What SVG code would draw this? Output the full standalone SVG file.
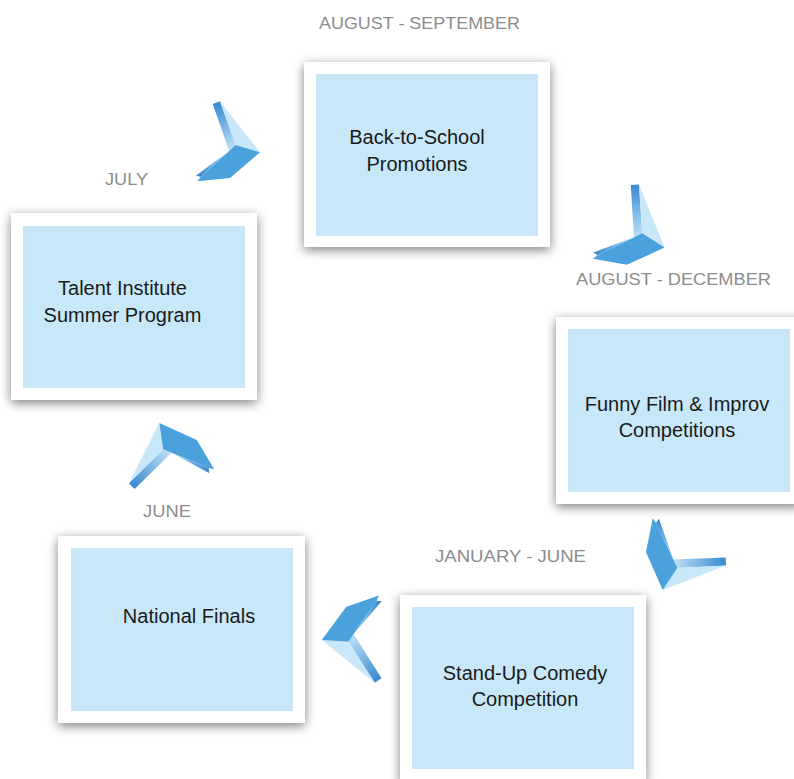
<svg xmlns="http://www.w3.org/2000/svg" xmlns:xlink="http://www.w3.org/1999/xlink" width="794" height="779" viewBox="0 0 794 779">
<style>
.frame{fill:#ffffff;filter:url(#shadow);}
.inner{fill:#c8e8f9;}
.txt{font-family:"Liberation Sans",Arial,sans-serif;font-size:20px;fill:#1a1a1a;text-anchor:middle;}
.lbl{font-family:"Liberation Sans",Arial,sans-serif;font-size:17px;fill:#8c8c8c;text-anchor:middle;}
.lightface{fill:#c8e8fa;}
.darkface{fill:#4ba1dc;}
</style>
<defs>
<filter id="shadow" x="-15%" y="-15%" width="130%" height="135%">
<feDropShadow dx="0" dy="3" stdDeviation="5.5" flood-color="#000" flood-opacity="0.5"/>
</filter>
<linearGradient id="gUp" gradientUnits="userSpaceOnUse" x1="-16" y1="-45" x2="0" y2="0">
<stop offset="0" stop-color="#3a8acf"/>
<stop offset="1" stop-color="#b9def5"/>
</linearGradient>
<linearGradient id="gLow" gradientUnits="userSpaceOnUse" x1="0" y1="3" x2="-35" y2="29">
<stop offset="0" stop-color="#b3dbf4"/>
<stop offset="1" stop-color="#3a8acf"/>
</linearGradient>
<g id="chev">
<polygon fill="url(#gUp)" points="-20,-44 -12.7,-46.7 3,-3 -3.5,3"/>
<polygon class="lightface" points="-12.7,-46.7 27.3,4.3 3,-3"/>
<polygon class="darkface" points="3,-3 27.3,4.3 -2.7,30 -35.3,33.3 -32,29"/>
<polygon fill="url(#gLow)" points="-3.5,3 3,-3 -32,29 -36.7,27.5"/>
</g>
</defs>
<rect width="794" height="779" fill="#ffffff"/>

<g id="connectors">
<use xlink:href="#chev" href="#chev" transform="translate(232.7,148)"/>
<use xlink:href="#chev" href="#chev" transform="translate(638.3,235.3) rotate(16) scale(1.05)"/>
<use xlink:href="#chev" href="#chev" transform="translate(675.3,564) rotate(107) scale(1.05)"/>
<use xlink:href="#chev" href="#chev" transform="translate(350.7,638) rotate(167) scale(1.05)"/>
<use xlink:href="#chev" href="#chev" transform="translate(167.3,450.7) rotate(-115) scale(1.04)"/>
</g>

<g id="node-back-to-school">
<rect class="frame" x="304" y="62" width="246" height="185"/>
<rect class="inner" x="316" y="74" width="222" height="162"/>
<text class="txt" x="417" y="144">Back-to-School</text>
<text class="txt" x="417" y="170.5">Promotions</text>
</g>

<g id="node-talent-institute">
<rect class="frame" x="11" y="213" width="246" height="187"/>
<rect class="inner" x="23" y="226" width="222" height="162"/>
<text class="txt" x="122.5" y="295">Talent Institute</text>
<text class="txt" x="122.5" y="322">Summer Program</text>
</g>

<g id="node-funny-film">
<rect class="frame" x="556" y="317" width="246" height="187"/>
<rect class="inner" x="568" y="329" width="222" height="163"/>
<text class="txt" x="677" y="411">Funny Film &amp; Improv</text>
<text class="txt" x="677" y="437">Competitions</text>
</g>

<g id="node-national-finals">
<rect class="frame" x="58" y="536" width="247" height="187"/>
<rect class="inner" x="71" y="548" width="222" height="163"/>
<text class="txt" x="189" y="623">National Finals</text>
</g>

<g id="node-stand-up">
<rect class="frame" x="400" y="595" width="246" height="187"/>
<rect class="inner" x="412" y="607" width="222" height="162"/>
<text class="txt" x="525" y="680">Stand-Up Comedy</text>
<text class="txt" x="525" y="706">Competition</text>
</g>

<g id="labels">
<text class="lbl" x="419.5" y="29" textLength="201" lengthAdjust="spacingAndGlyphs">AUGUST - SEPTEMBER</text>
<text class="lbl" x="126.5" y="185" textLength="43" lengthAdjust="spacingAndGlyphs">JULY</text>
<text class="lbl" x="673.5" y="285" textLength="195" lengthAdjust="spacingAndGlyphs">AUGUST - DECEMBER</text>
<text class="lbl" x="167" y="517" textLength="48" lengthAdjust="spacingAndGlyphs">JUNE</text>
<text class="lbl" x="510.5" y="562" textLength="151" lengthAdjust="spacingAndGlyphs">JANUARY - JUNE</text>
</g>
</svg>
